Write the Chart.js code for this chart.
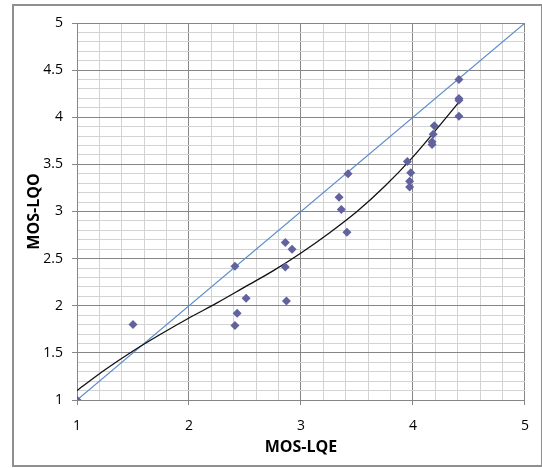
<!DOCTYPE html>
<html>
<head>
<meta charset="utf-8">
<script src="https://cdn.jsdelivr.net/npm/chart.js@4.4.0/dist/chart.umd.min.js"></script>
<style>
  html, body { margin: 0; padding: 0; background: #fff; }
  #wrap { width: 542px; height: 468px; }
</style>
</head>
<body>
<div id="wrap"><canvas id="chart" width="542" height="468"></canvas></div>
<script>
// Measured points (MOS-LQE vs MOS-LQO)
const lqe = [1.00, 1.50, 2.41, 2.43, 2.41, 2.51, 2.86, 2.92, 2.86, 2.87, 3.34, 3.36, 3.41,
             3.42, 3.95, 3.98, 3.97, 3.97, 4.41, 4.41, 4.41, 4.41, 4.19, 4.18, 4.17, 4.17];
const lqo = [1.00, 1.80, 2.42, 1.92, 1.79, 2.08, 2.67, 2.60, 2.41, 2.05, 3.15, 3.02, 2.78,
             3.40, 3.53, 3.41, 3.32, 3.26, 4.40, 4.20, 4.18, 4.01, 3.91, 3.82, 3.74, 3.71];

// Trendline
const trendX = [1.00, 1.25, 1.50, 1.75, 2.00, 2.25, 2.50, 2.75, 3.00, 3.25, 3.50, 3.75, 4.00, 4.25, 4.41];
const trendY = [1.10, 1.32, 1.52, 1.70, 1.87, 2.03, 2.20, 2.37, 2.56, 2.77, 3.00, 3.27, 3.58, 3.93, 4.16];

// Reference line y = x
const diagX = [1, 5];
const diagY = [1, 5];

const toXY = (xs, ys) => xs.map((x, i) => ({ x: x, y: ys[i] }));

const majorGrid = '#868686';
const minorGrid = '#d3d3d3';
const tickFont = { family: "'Open Sans', 'Liberation Sans', sans-serif", size: 14 };
const titleFont = { family: "'Open Sans', 'Liberation Sans', sans-serif", size: 16, weight: 'bold' };

// x: major every 1, y: major every 0.5
const isMajorX = v => Math.abs(v - Math.round(v)) < 1e-6;
const isMajorY = v => Math.round(v * 10) % 5 === 0;

// White background + outer frame
const frame = {
    id: 'frame',
    beforeDraw(chart) {
        const ctx = chart.ctx;
        ctx.save();
        ctx.fillStyle = '#fff';
        ctx.fillRect(0, 0, chart.width, chart.height);
        ctx.restore();
    },
    afterDraw(chart) {
        const ctx = chart.ctx;
        ctx.save();
        ctx.strokeStyle = '#8f8f8f';
        ctx.lineWidth = 2;
        ctx.strokeRect(13, 5, 529, 461);
        ctx.restore();
    }
};

new Chart(document.getElementById('chart'), {
    type: 'scatter',
    data: {
        datasets: [
            {
                label: 'points',
                data: toXY(lqe, lqo),
                pointStyle: 'rectRot',
                pointRadius: 4.5,
                backgroundColor: '#62629f',
                borderWidth: 0,
                order: 0
            },
            {
                label: 'trend',
                data: toXY(trendX, trendY),
                showLine: true,
                pointRadius: 0,
                borderColor: '#111',
                borderWidth: 1.3,
                cubicInterpolationMode: 'monotone',
                order: 1
            },
            {
                label: 'y=x',
                data: toXY(diagX, diagY),
                showLine: true,
                pointRadius: 0,
                borderColor: '#5b8bcb',
                borderWidth: 1.2,
                order: 2
            }
        ]
    },
    options: {
        responsive: false,
        animation: false,
        layout: { padding: { top: 23, right: 15, bottom: 0, left: 0 } },
        plugins: {
            legend: { display: false },
            tooltip: { enabled: false }
        },
        scales: {
            x: {
                type: 'linear',
                min: 1,
                max: 5,
                afterFit: s => { s.height = 68; },
                ticks: {
                    stepSize: 0.2,
                    autoSkip: false,
                    maxRotation: 0,
                    padding: 13,
                    color: '#000',
                    font: tickFont,
                    callback: v => isMajorX(v) ? String(Math.round(v)) : ''
                },
                grid: {
                    color: c => isMajorX(c.tick.value) ? majorGrid : minorGrid,
                    tickColor: c => isMajorX(c.tick.value) ? majorGrid : 'rgba(0,0,0,0)',
                    tickLength: 5
                },
                border: { color: majorGrid },
                title: {
                    display: true,
                    text: 'MOS-LQE',
                    color: '#000',
                    font: titleFont,
                    padding: { top: 0, bottom: 11 }
                }
            },
            y: {
                type: 'linear',
                min: 1,
                max: 5,
                afterFit: s => { s.width = 77; },
                ticks: {
                    stepSize: 0.1,
                    autoSkip: false,
                    padding: 9,
                    color: '#000',
                    font: tickFont,
                    callback: v => isMajorY(v) ? String(Math.round(v * 10) / 10) : ''
                },
                grid: {
                    color: c => isMajorY(c.tick.value) ? majorGrid : minorGrid,
                    tickColor: c => isMajorY(c.tick.value) ? majorGrid : 'rgba(0,0,0,0)',
                    tickLength: 5
                },
                border: { color: majorGrid },
                title: {
                    display: true,
                    text: 'MOS-LQO',
                    color: '#000',
                    font: titleFont,
                    padding: { top: 25, bottom: 0 }
                }
            }
        }
    },
    plugins: [frame]
});
</script>
</body>
</html>
